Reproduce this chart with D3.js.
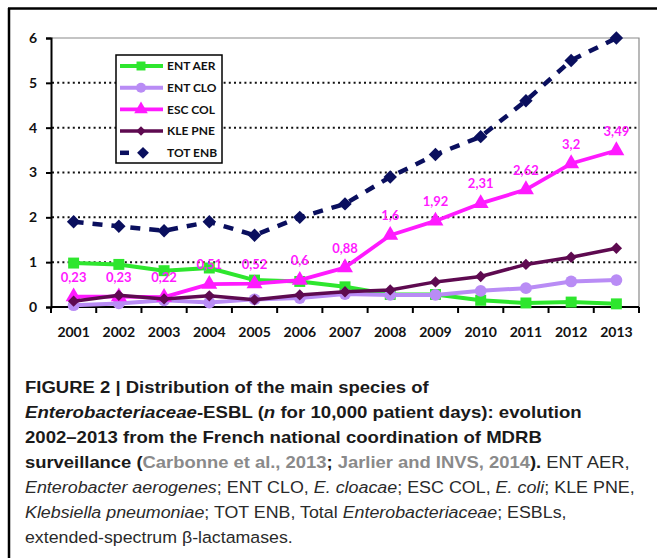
<!DOCTYPE html>
<html>
<head>
<meta charset="utf-8">
<script src="https://cdn.jsdelivr.net/npm/d3@7"></script>
<style>
  body { margin: 0; background: #fff; }
  svg { display: block; }
</style>
</head>
<body>
<div id="chart"></div>
<script>
// Data
const years = ["2001","2002","2003","2004","2005","2006","2007","2008","2009","2010","2011","2012","2013"];
const entAer = [0.98, 0.95, 0.81, 0.87, 0.60, 0.57, 0.45, 0.28, 0.28, 0.15, 0.09, 0.11, 0.07];
const entClo = [0.04, 0.08, 0.15, 0.10, 0.17, 0.20, 0.29, 0.27, 0.27, 0.36, 0.42, 0.57, 0.60];
const escCol = [0.23, 0.23, 0.22, 0.51, 0.52, 0.6, 0.88, 1.6, 1.92, 2.31, 2.62, 3.2, 3.49];
const klePne = [0.13, 0.26, 0.18, 0.25, 0.16, 0.27, 0.34, 0.38, 0.56, 0.68, 0.95, 1.11, 1.31];
const totEnb = [1.9, 1.8, 1.7, 1.9, 1.6, 2.0, 2.3, 2.9, 3.4, 3.8, 4.6, 5.5, 6.0];
const yTicks = [0, 1, 2, 3, 4, 5, 6];

const series = [
  {name: "ENT AER", values: entAer, color: "#2ee62e", width: 4, marker: "square", size: 120},
  {name: "ENT CLO", values: entClo, color: "#b98cf5", width: 4, marker: "circle", size: 110},
  {name: "ESC COL", values: escCol, color: "#ff1aff", width: 3.8, marker: "triangle", size: 110},
  {name: "KLE PNE", values: klePne, color: "#5e0a50", width: 3.5, marker: "diamond", size: 64},
  {name: "TOT ENB", values: totEnb, color: "#0a0f5e", width: 4.5, marker: "diamond", size: 90, dash: "10,9"}
];

const W = 657, H = 558;
const svg = d3.select("#chart").append("svg").attr("width", W).attr("height", H);

// outer frame (top + left only visible)
svg.append("line").attr("x1", 8).attr("x2", W).attr("y1", 8.5).attr("y2", 8.5)
  .attr("stroke", "#000").attr("stroke-width", 2.5);
svg.append("line").attr("x1", 9).attr("x2", 9).attr("y1", 8).attr("y2", H)
  .attr("stroke", "#000").attr("stroke-width", 2.5);

const x = d3.scaleBand().domain(years).range([51, 639]);
const y = d3.scaleLinear().domain([0, 6]).range([307, 38]);
const cx = d => x(d) + x.bandwidth() / 2;

// plot border (top/right gray)
svg.append("path")
  .attr("d", `M51,${y(6)}H639V${y(0)}`)
  .attr("fill", "none").attr("stroke", "#8a8a8a").attr("stroke-width", 1.2);

// gridlines
svg.append("g").selectAll("line").data(yTicks.filter(t => t > 0 && t < 6)).enter().append("line")
  .attr("x1", 52).attr("x2", 639)
  .attr("y1", d => y(d)).attr("y2", d => y(d))
  .attr("stroke", "#111").attr("stroke-width", 2).attr("stroke-dasharray", "2,3.2");

// y axis
const yAxis = svg.append("g").attr("transform", "translate(51,0)")
  .call(d3.axisLeft(y).tickValues(yTicks).tickSize(5).tickPadding(9).tickFormat(d3.format("d")));
yAxis.select(".domain").attr("stroke", "#000").attr("stroke-width", 2);
yAxis.selectAll(".tick line").attr("stroke", "#000").attr("stroke-width", 2);
yAxis.selectAll("text").attr("font-family", "Lato, sans-serif").attr("font-weight", "bold")
  .attr("font-size", 14).attr("fill", "#111");

// x axis
const xAxis = svg.append("g").attr("transform", `translate(0,${y(0)})`)
  .call(d3.axisBottom(x).tickSize(0).tickPadding(20));
xAxis.select(".domain").attr("d", "M51,0H639").attr("stroke", "#000").attr("stroke-width", 2);
xAxis.selectAll("text").attr("font-family", "Lato, sans-serif").attr("font-weight", "bold")
  .attr("font-size", 14).attr("fill", "#111");
xAxis.selectAll("line.bound").data(years.map(d => x(d)).concat([x.range()[1]])).enter()
  .append("line").attr("class", "bound")
  .attr("x1", d => d).attr("x2", d => d).attr("y1", 0).attr("y2", 6)
  .attr("stroke", "#000").attr("stroke-width", 2);

const symbolType = {
  square: d3.symbolSquare, circle: d3.symbolCircle,
  triangle: d3.symbolTriangle, diamond: d3.symbolSquare
};
const rot = m => m === "diamond" ? " rotate(45)" : "";

const line = d3.line().x((d, i) => cx(years[i])).y(d => y(d));

series.forEach(s => {
  const g = svg.append("g");
  g.append("path").datum(s.values).attr("d", line)
    .attr("fill", "none").attr("stroke", s.color).attr("stroke-width", s.width)
    .attr("stroke-linejoin", "round")
    .attr("stroke-dasharray", s.dash || null);
  g.selectAll("path.m").data(s.values).enter().append("path").attr("class", "m")
    .attr("d", d3.symbol().type(symbolType[s.marker]).size(s.size))
    .attr("transform", (d, i) => `translate(${cx(years[i])},${y(d)})` + rot(s.marker))
    .attr("fill", s.color);
});

// data labels ESC COL
svg.append("g").selectAll("text").data(escCol).enter().append("text")
  .attr("x", (d, i) => cx(years[i]))
  .attr("y", (d, i) => y(d) - 15)
  .attr("text-anchor", "middle")
  .attr("font-family", "Lato, sans-serif").attr("font-weight", "bold").attr("font-size", 13)
  .attr("fill", "#ff1aff")
  .text(d => String(d).replace(".", ","));

// legend
const lg = svg.append("g");
lg.append("rect").attr("x", 116).attr("y", 55).attr("width", 106).attr("height", 108)
  .attr("fill", "#fff").attr("stroke", "#000").attr("stroke-width", 1.5);
series.forEach((s, i) => {
  const ly = 66 + i * 21.7;
  if (s.dash) {
    lg.append("line").attr("x1", 120).attr("x2", 129).attr("y1", ly).attr("y2", ly)
      .attr("stroke", s.color).attr("stroke-width", s.width);
  } else {
    lg.append("line").attr("x1", 120).attr("x2", 163).attr("y1", ly).attr("y2", ly)
      .attr("stroke", s.color).attr("stroke-width", s.width);
  }
  lg.append("path").attr("d", d3.symbol().type(symbolType[s.marker]).size(s.dash ? 70 : (s.marker === "diamond" ? 45 : 80)))
    .attr("transform", `translate(${s.dash ? 143 : 141},${ly})` + rot(s.marker)).attr("fill", s.color);
  lg.append("text").attr("x", 167).attr("y", ly).attr("dy", "0.36em")
    .attr("font-family", "Lato, sans-serif").attr("font-weight", "bold").attr("font-size", 12)
    .attr("fill", "#111").text(s.name);
});

// caption
const captionLines = [
  {w: 404, parts: [{t: "FIGURE 2 | Distribution of the main species of", b: 1}]},
  {w: 557, parts: [{t: "Enterobacteriaceae", b: 1, i: 1}, {t: "-ESBL (", b: 1}, {t: "n", b: 1, i: 1}, {t: " for 10,000 patient days): evolution", b: 1}]},
  {w: 517, parts: [{t: "2002–2013 from the French national coordination of MDRB", b: 1}]},
  {w: 605, parts: [{t: "surveillance (", b: 1}, {t: "Carbonne et al., 2013", b: 1, c: "#8a8a8a"}, {t: "; ", b: 1}, {t: "Jarlier and INVS, 2014", b: 1, c: "#8a8a8a"}, {t: ").", b: 1}, {t: " ENT AER,"}]},
  {w: 610, parts: [{t: "Enterobacter aerogenes", i: 1}, {t: "; ENT CLO, "}, {t: "E. cloacae", i: 1}, {t: "; ESC COL, "}, {t: "E. coli", i: 1}, {t: "; KLE PNE,"}]},
  {w: 542, parts: [{t: "Klebsiella pneumoniae", i: 1}, {t: "; TOT ENB, Total "}, {t: "Enterobacteriaceae", i: 1}, {t: "; ESBLs,"}]},
  {w: 268, parts: [{t: "extended-spectrum β-lactamases."}]}
];
const cap = svg.append("g");
const capTexts = captionLines.map((ln, k) => {
  const t = cap.append("text").attr("x", 0).attr("y", 0)
    .attr("font-family", "'Liberation Sans', Arial, sans-serif")
    .attr("font-size", 17);
  ln.parts.forEach(p => {
    t.append("tspan").text(p.t)
      .attr("font-weight", p.b ? "bold" : "normal")
      .attr("font-style", p.i ? "italic" : "normal")
      .attr("fill", p.c || (p.b ? "#1a1a1a" : "#2a2a2a"));
  });
  return t;
});
// condensed look: squeeze each line to the width it has in the figure
capTexts.forEach((t, k) => {
  const nat = t.node().getComputedTextLength();
  const sx = captionLines[k].w / nat;
  t.attr("transform", `translate(25,${393 + k * 25}) scale(${sx},1)`);
});
</script>
</body>
</html>
